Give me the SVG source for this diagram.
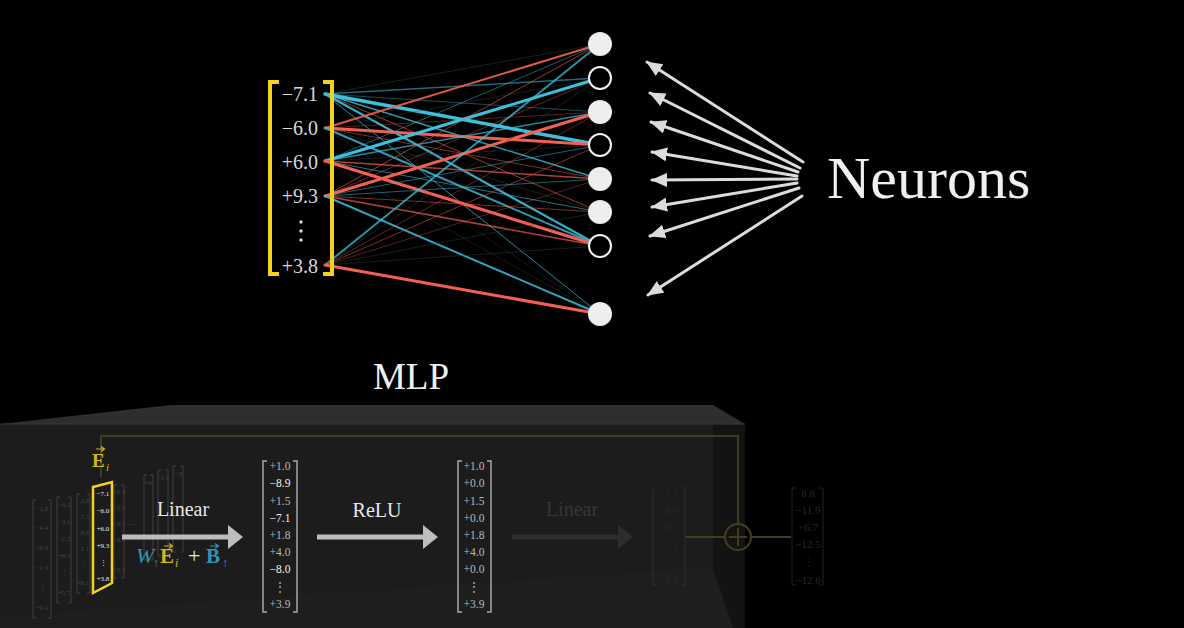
<svg xmlns="http://www.w3.org/2000/svg" width="1184" height="628" viewBox="0 0 1184 628">
<defs>
<style>
.serif{font-family:"Liberation Serif","DejaVu Serif",serif}
.num{font-family:"Liberation Serif","DejaVu Serif",serif;font-size:20px;fill:#d8d8d8;text-anchor:end}
.b{stroke:#3cc0dc;fill:none}
.r{stroke:#f3604f;fill:none}
.k{stroke:#3a4a4e;fill:none}
.ent{font-family:"Liberation Serif","DejaVu Serif",serif;font-size:11.5px;text-anchor:middle;fill:#b8b8b8}
.w{fill:#f2f2f2}
.tiny{font-family:"Liberation Serif","DejaVu Serif",serif;font-size:7px;text-anchor:middle;fill:#444}
.fadedent{font-family:"Liberation Serif","DejaVu Serif",serif;font-size:11px;text-anchor:middle;fill:#262626}
.brk{fill:none;stroke:#a8a8a8;stroke-width:1.5}
.fbrk{fill:none;stroke:#3e3e3e;stroke-width:1}
.ybrk{fill:none;stroke:#f2d21e;stroke-width:4}
.nfill{fill:#eeeeee}
.nhollow{fill:#000;stroke:#f2f2f2;stroke-width:2}
.ptr{stroke:#dcdcdc;stroke-width:3;fill:none}
.olive{stroke:#433d20;stroke-width:2;fill:none}
</style>
<marker id="ah" viewBox="0 0 16 14" refX="15" refY="7" markerWidth="16" markerHeight="14" markerUnits="userSpaceOnUse" orient="auto">
<path d="M0,0 L16,7 L0,14 Z" fill="#dcdcdc"/>
</marker>
</defs>
<rect width="1184" height="628" fill="#000"/>

<!-- 3D box -->
<g id="box">
<polygon points="0,424 171,405 713,405 745,424" fill="#2e2e2e"/>
<rect x="0" y="424" width="745" height="204" fill="#1c1c1c"/>
<polygon points="0,628 0,616 712,567 733,628" fill="#1e1e1e"/>
<polygon points="713,424 745,424 745,628 733,628 713,568" fill="#131313"/>
<line x1="0" y1="424" x2="745" y2="424" stroke="#383838" stroke-width="1"/>
</g>

<!-- faint yellow residual path -->
<g id="residual">
<path class="olive" d="M101,477 V436 H738 V524"/>
<circle class="olive" cx="738" cy="537" r="13"/>
<line class="olive" x1="738" y1="528" x2="738" y2="546"/>
<line class="olive" x1="729" y1="537" x2="747" y2="537"/>
<line class="olive" x1="685" y1="537" x2="725" y2="537"/>
<line class="olive" x1="751" y1="537" x2="791" y2="537"/>
</g>

<!-- connectors (weights) -->
<g id="connectors" stroke-linecap="round">
<line class="k" x1="325" y1="94" x2="600" y2="44" stroke-width="1" opacity="0.4"/>
<line class="b" x1="325" y1="94" x2="600" y2="78" stroke-width="1.5" opacity="0.55"/>
<line class="b" x1="325" y1="94" x2="600" y2="112" stroke-width="1" opacity="0.4"/>
<line class="b" x1="325" y1="94" x2="600" y2="145" stroke-width="3.5"/>
<line class="b" x1="325" y1="94" x2="600" y2="179" stroke-width="1.5" opacity="0.8"/>
<line class="r" x1="325" y1="94" x2="600" y2="212" stroke-width="1" opacity="0.6"/>
<line class="b" x1="325" y1="94" x2="600" y2="246" stroke-width="2.2" opacity="0.9"/>
<line class="b" x1="325" y1="94" x2="600" y2="314" stroke-width="1" opacity="0.7"/>

<line class="r" x1="325" y1="128" x2="600" y2="44" stroke-width="2" opacity="0.9"/>
<line class="k" x1="325" y1="128" x2="600" y2="78" stroke-width="1" opacity="0.4"/>
<line class="r" x1="325" y1="128" x2="600" y2="112" stroke-width="1" opacity="0.35"/>
<line class="r" x1="325" y1="128" x2="600" y2="145" stroke-width="3"/>
<line class="r" x1="325" y1="128" x2="600" y2="179" stroke-width="1" opacity="0.5"/>
<line class="k" x1="325" y1="128" x2="600" y2="212" stroke-width="1" opacity="0.4"/>
<line class="b" x1="325" y1="128" x2="600" y2="246" stroke-width="2" opacity="0.8"/>
<line class="k" x1="325" y1="128" x2="600" y2="314" stroke-width="1" opacity="0.3"/>

<line class="b" x1="325" y1="161" x2="600" y2="44" stroke-width="1" opacity="0.5"/>
<line class="b" x1="325" y1="161" x2="600" y2="78" stroke-width="3"/>
<line class="b" x1="325" y1="161" x2="600" y2="112" stroke-width="1.5" opacity="0.7"/>
<line class="k" x1="325" y1="161" x2="600" y2="145" stroke-width="1" opacity="0.4"/>
<line class="r" x1="325" y1="161" x2="600" y2="179" stroke-width="1.5" opacity="0.7"/>
<line class="b" x1="325" y1="161" x2="600" y2="212" stroke-width="1" opacity="0.6"/>
<line class="r" x1="325" y1="161" x2="600" y2="246" stroke-width="3"/>
<line class="k" x1="325" y1="161" x2="600" y2="314" stroke-width="1" opacity="0.35"/>

<line class="r" x1="325" y1="196" x2="600" y2="44" stroke-width="1" opacity="0.6"/>
<line class="r" x1="325" y1="196" x2="600" y2="78" stroke-width="1" opacity="0.4"/>
<line class="r" x1="325" y1="196" x2="600" y2="112" stroke-width="3"/>
<line class="b" x1="325" y1="196" x2="600" y2="145" stroke-width="1" opacity="0.5"/>
<line class="b" x1="325" y1="196" x2="600" y2="179" stroke-width="1" opacity="0.5"/>
<line class="r" x1="325" y1="196" x2="600" y2="212" stroke-width="1" opacity="0.5"/>
<line class="r" x1="325" y1="196" x2="600" y2="246" stroke-width="1.5" opacity="0.7"/>
<line class="b" x1="325" y1="196" x2="600" y2="314" stroke-width="2" opacity="0.85"/>

<line class="b" x1="325" y1="265" x2="600" y2="44" stroke-width="2" opacity="0.75"/>
<line class="k" x1="325" y1="265" x2="600" y2="78" stroke-width="1" opacity="0.4"/>
<line class="r" x1="325" y1="265" x2="600" y2="112" stroke-width="1" opacity="0.4"/>
<line class="r" x1="325" y1="265" x2="600" y2="145" stroke-width="1" opacity="0.5"/>
<line class="r" x1="325" y1="265" x2="600" y2="179" stroke-width="1" opacity="0.35"/>
<line class="k" x1="325" y1="265" x2="600" y2="212" stroke-width="1" opacity="0.4"/>
<line class="k" x1="325" y1="265" x2="600" y2="246" stroke-width="1" opacity="0.4"/>
<line class="r" x1="325" y1="265" x2="600" y2="314" stroke-width="3"/>

<path class="ptr" d="M803,162 L647,62" marker-end="url(#ah)"/>
<path class="ptr" d="M800,168 L650,93" marker-end="url(#ah)"/>
<path class="ptr" d="M798,172 L651,122" marker-end="url(#ah)"/>
<path class="ptr" d="M797,176 L652,152" marker-end="url(#ah)"/>
<path class="ptr" d="M797,179 L652,180" marker-end="url(#ah)"/>
<path class="ptr" d="M797,183 L652,207" marker-end="url(#ah)"/>
<path class="ptr" d="M799,188 L650,236" marker-end="url(#ah)"/>
<path class="ptr" d="M802,196 L648,295" marker-end="url(#ah)"/>
</g>

<!-- input vector -->
<g id="input-vector">
<path class="ybrk" d="M279,82 H270 V274 H279"/>
<path class="ybrk" d="M323,82 H332 V274 H323"/>
<text class="num" x="318" y="101">−7.1</text>
<text class="num" x="318" y="135">−6.0</text>
<text class="num" x="318" y="169">+6.0</text>
<text class="num" x="318" y="203">+9.3</text>
<circle cx="301" cy="222" r="1.7" fill="#d8d8d8"/>
<circle cx="301" cy="231" r="1.7" fill="#d8d8d8"/>
<circle cx="301" cy="240" r="1.7" fill="#d8d8d8"/>
<text class="num" x="318" y="273">+3.8</text>
</g>

<!-- neurons -->
<g id="neuron-1"><circle class="nfill" cx="600" cy="44" r="12"/></g>
<g id="neuron-2"><circle class="nhollow" cx="600" cy="78" r="11"/></g>
<g id="neuron-3"><circle class="nfill" cx="600" cy="112" r="12"/></g>
<g id="neuron-4"><circle class="nhollow" cx="600" cy="145" r="11"/></g>
<g id="neuron-5"><circle class="nfill" cx="600" cy="179" r="12"/></g>
<g id="neuron-6"><circle class="nfill" cx="600" cy="212" r="12"/></g>
<g id="neuron-7"><circle class="nhollow" cx="600" cy="246" r="11"/></g>
<g id="neuron-8"><circle class="nfill" cx="600" cy="314" r="12"/></g>

<g id="neurons-label"><text class="serif" x="827" y="198" font-size="60" fill="#f0f0f0">Neurons</text></g>
<g id="mlp-label"><text class="serif" x="411" y="389" font-size="37" fill="#f0f0f0" text-anchor="middle">MLP</text></g>

<!-- left stack of vectors -->
<g id="vector-stack">
<path class="fbrk" d="M36,500 H33 V618 H36 M48,500 H51 V618 H48"/>
<text class="tiny" x="42" y="511">−1.6</text><text class="tiny" x="42" y="530">−4.4</text><text class="tiny" x="42" y="550">−9.9</text><text class="tiny" x="42" y="570">−1.9</text><text class="tiny" x="42" y="590">⋮</text><text class="tiny" x="42" y="610">−9.1</text>
<path class="fbrk" d="M60,497 H57 V603 H60 M68,497 H71 V603 H68"/>
<text class="tiny" x="64" y="507">−4.2</text><text class="tiny" x="64" y="524">−3.1</text><text class="tiny" x="64" y="541">−2.3</text><text class="tiny" x="64" y="558">+8.5</text><text class="tiny" x="64" y="575">⋮</text><text class="tiny" x="64" y="595">+5.7</text>
<path class="fbrk" d="M80,494 H77 V593 H80 M87,494 H90 V593 H87"/>
<text class="tiny" x="83" y="503">−2.8</text><text class="tiny" x="83" y="519">−2.5</text><text class="tiny" x="83" y="535">−9.6</text><text class="tiny" x="83" y="551">−1.1</text><text class="tiny" x="83" y="567">⋮</text><text class="tiny" x="83" y="585">+0.1</text>
<path class="fbrk" d="M117,485 H114 V578 H117 M121,485 H124 V578 H121"/>
<text class="tiny" x="119" y="494">+2.3</text><text class="tiny" x="119" y="510">−2.5</text><text class="tiny" x="119" y="526">−3.1</text><text class="tiny" x="119" y="542">−8.4</text><text class="tiny" x="119" y="556">⋮</text><text class="tiny" x="119" y="572">−2.1</text>
<text class="tiny" x="131" y="527" font-size="10">⋯</text>
<path class="fbrk" d="M147,475 H144 V560 H147 M150,475 H153 V560 H150"/>
<path class="fbrk" d="M161,470 H158 V556 H161 M165,470 H168 V556 H165"/>
<path class="fbrk" d="M176,466 H173 V552 H176 M180,466 H183 V552 H180"/>
<text class="tiny" x="148" y="485">+6</text><text class="tiny" x="163" y="480">−1.1</text><text class="tiny" x="178" y="476">−3</text>
</g>

<g id="embedding-vector">
<polygon points="93,487 112,482 112,583 93,593" fill="none" stroke="#f2d21e" stroke-width="2.5"/>
<g font-family="Liberation Serif, serif" font-size="7" fill="#e8e8e8" text-anchor="middle">
<text x="103" y="496">−7.1</text><text x="103" y="513">−6.0</text><text x="103" y="531">+6.0</text><text x="103" y="548">+9.3</text><text x="103" y="565">⋮</text><text x="103" y="581">+3.8</text>
</g>
<text class="serif" x="92" y="467" font-size="19" font-weight="bold" fill="#d4b41c">E</text>
<text class="serif" x="106" y="471" font-size="11" font-style="italic" fill="#d4b41c">i</text>
<path d="M96,449 H104 M101,446.5 L104.5,449 L101,451.5" stroke="#d4b41c" stroke-width="1.2" fill="none"/>
</g>

<!-- Linear 1 -->
<g id="linear-1">
<text class="serif" x="183" y="516" font-size="20" fill="#e8e8e8" text-anchor="middle">Linear</text>
<line x1="122" y1="537" x2="230" y2="537" stroke="#bdbdbd" stroke-width="5"/>
<polygon points="228,525 243,537 228,549" fill="#bdbdbd"/>
<text class="serif" x="136" y="563" font-size="22" font-style="italic" fill="#2f96b4">W</text>
<text class="serif" x="153" y="567" font-size="12" fill="#2f96b4">↑</text>
<text class="serif" x="160" y="563" font-size="21" font-weight="bold" fill="#d4b41c">E</text>
<text class="serif" x="175" y="567" font-size="12" font-style="italic" fill="#d4b41c">i</text>
<path d="M164,546 H172 M169,543.5 L172.5,546 L169,548.5" stroke="#d4b41c" stroke-width="1.2" fill="none"/>
<text class="serif" x="188" y="563" font-size="22" fill="#e8e8e8">+</text>
<text class="serif" x="206" y="563" font-size="21" font-weight="bold" fill="#2f96b4">B</text>
<text class="serif" x="222" y="567" font-size="12" fill="#2f96b4">↑</text>
<path d="M210,546 H218 M215,543.5 L218.5,546 L215,548.5" stroke="#2f96b4" stroke-width="1.2" fill="none"/>
</g>

<!-- hidden vector -->
<g id="hidden-vector">
<path class="brk" d="M267,461 H263 V612 H267 M293,461 H297 V612 H293"/>
<text class="ent" x="280" y="470">+1.0</text>
<text class="ent w" x="280" y="487">−8.9</text>
<text class="ent" x="280" y="505">+1.5</text>
<text class="ent w" x="280" y="522">−7.1</text>
<text class="ent" x="280" y="539">+1.8</text>
<text class="ent" x="280" y="556">+4.0</text>
<text class="ent w" x="280" y="573">−8.0</text>
<text class="ent" x="280" y="591">⋮</text>
<text class="ent" x="280" y="608">+3.9</text>
</g>

<g id="relu">
<text class="serif" x="377" y="517" font-size="20" fill="#e8e8e8" text-anchor="middle">ReLU</text>
<line x1="317" y1="537" x2="425" y2="537" stroke="#bdbdbd" stroke-width="5"/>
<polygon points="423,525 438,537 423,549" fill="#bdbdbd"/>
</g>

<g id="relu-vector">
<path class="brk" d="M462,461 H458 V612 H462 M487,461 H491 V612 H487"/>
<text class="ent" x="474" y="470">+1.0</text>
<text class="ent" x="474" y="487">+0.0</text>
<text class="ent" x="474" y="505">+1.5</text>
<text class="ent" x="474" y="522">+0.0</text>
<text class="ent" x="474" y="539">+1.8</text>
<text class="ent" x="474" y="556">+4.0</text>
<text class="ent" x="474" y="573">+0.0</text>
<text class="ent" x="474" y="591">⋮</text>
<text class="ent" x="474" y="608">+3.9</text>
</g>

<g id="linear-2">
<text class="serif" x="572" y="516" font-size="20" fill="#363636" text-anchor="middle">Linear</text>
<line x1="512" y1="537" x2="620" y2="537" stroke="#2d2d2d" stroke-width="5"/>
<polygon points="618,525 633,537 618,549" fill="#2d2d2d"/>
</g>

<g id="output-vector">
<path d="M657,488 H653 V585 H657 M681,488 H685 V585 H681" fill="none" stroke="#2e2e2e" stroke-width="1"/>
<text class="fadedent" x="669" y="497">+1.7</text>
<text class="fadedent" x="669" y="514">−8.9</text>
<text class="fadedent" x="669" y="531">+0.7</text>
<text class="fadedent" x="669" y="548">−3.2</text>
<text class="fadedent" x="669" y="566">⋮</text>
<text class="fadedent" x="669" y="584">−8.8</text>
</g>

<g id="sum-vector">
<path d="M796,488 H792 V585 H796 M819,488 H823 V585 H819" fill="none" stroke="#222" stroke-width="1"/>
<text class="fadedent" x="808" y="497" fill="#202020">8.8</text>
<text class="fadedent" x="808" y="514">−11.9</text>
<text class="fadedent" x="808" y="531">+6.7</text>
<text class="fadedent" x="808" y="548">+12.5</text>
<text class="fadedent" x="808" y="566">⋮</text>
<text class="fadedent" x="808" y="584">−12.6</text>
</g>
</svg>
